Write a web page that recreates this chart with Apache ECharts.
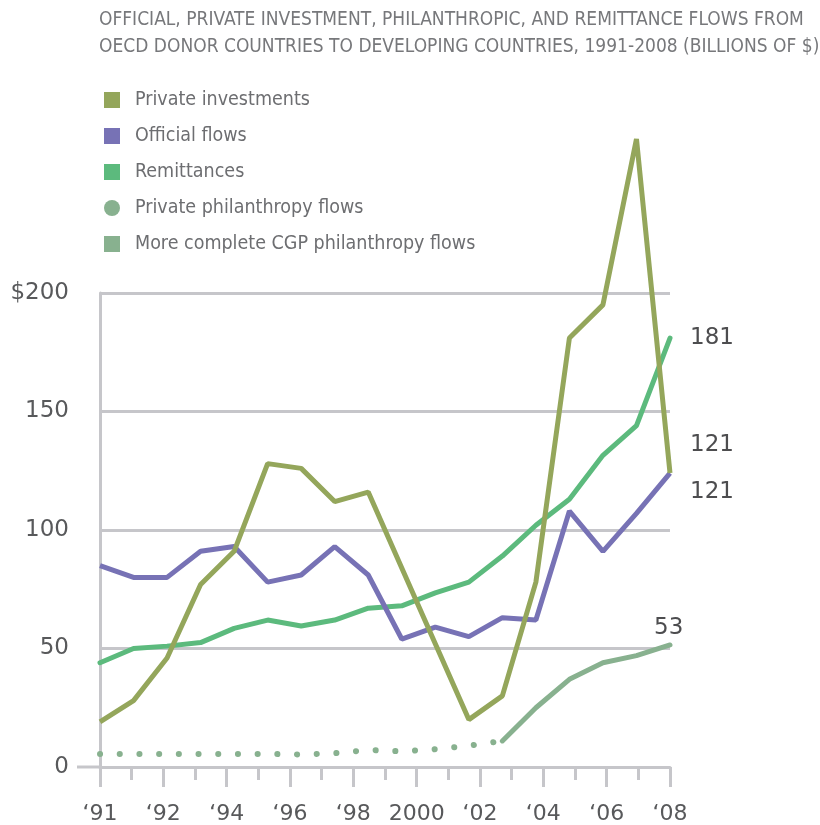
<!DOCTYPE html>
<html>
<head>
<meta charset="utf-8">
<script src="https://cdn.jsdelivr.net/npm/echarts@6/dist/echarts.min.js"></script>
<style>
	html, body { margin: 0; padding: 0; background: #fff; }
	#chart { width: 820px; height: 825px; }
</style>
</head>
<body>
<div id="chart"></div>
<script>
const years = ['1991', '1992', '1993', '1994', '1995', '1996', '1997', '1998', '1999',
	'2000', '2001', '2002', '2003', '2004', '2005', '2006', '2007', '2008']
const tickLabels = ['‘91', '‘92', '‘94', '‘96', '‘98', '2000', '‘02', '‘04', '‘06', '‘08']

const privateInvestments = [19, 28, 46, 77, 91, 128, 126, 112, 116, 84, 52, 20, 30, 78, 181, 195, 265, 124]
const officialFlows = [85, 80, 80, 91, 93, 78, 81, 93, 81, 54, 59, 55, 63, 62, 108, 91, 107, 124]
const remittances = [44, 50, 51, 52.5, 58.5, 62, 59.5, 62, 67, 68, 73.5, 78, 89, 102, 113, 131.5, 144, 181]
const privatePhilanthropy = [5.5, 5.5, 5.5, 5.5, 5.5, 5.5, 5.3, 5.8, 7.2, 6.6, 7.5, 9, 11,
	null, null, null, null, null]
const cgpPhilanthropy = [null, null, null, null, null, null, null, null, null, null, null, null,
	11, 25, 37, 44, 47, 51.5]
const endLabels = { remittances: '181', privateInvestments: '121', officialFlows: '121', cgp: '53' }

const condensed = "'DejaVu Sans Condensed', 'DejaVu Sans', sans-serif"
const numFont = "'DejaVu Sans', sans-serif"
const gridColor = '#c6c6ca'

const node = document.getElementById('chart')
const myChart = echarts.init(node)

const endLabel = (text, offset) => ({
	show: true,
	formatter: text,
	offset: offset,
	fontFamily: numFont,
	fontSize: 23,
	color: '#4d4d4f'
})

const option = {
	animation: false,
	title: {
		text: 'OFFICIAL, PRIVATE INVESTMENT, PHILANTHROPIC, AND REMITTANCE FLOWS FROM\nOECD DONOR COUNTRIES TO DEVELOPING COUNTRIES, 1991-2008 (BILLIONS OF $)',
		left: 99,
		top: 7,
		padding: 0,
		textStyle: {
			fontFamily: condensed,
			fontWeight: 400,
			fontSize: 19,
			lineHeight: 27,
			color: '#77787b'
		}
	},
	legend: {
		orient: 'vertical',
		left: 99,
		top: 85,
		itemWidth: 16,
		itemHeight: 16,
		itemGap: 16,
		textStyle: {
			fontFamily: condensed,
			fontSize: 19.5,
			lineHeight: 16,
			color: '#6d6e71',
			padding: [0, 0, 0, 10]
		},
		data: [
			{ name: 'Private investments', icon: 'rect' },
			{ name: 'Official flows', icon: 'rect' },
			{ name: 'Remittances', icon: 'rect' },
			{ name: 'Private philanthropy flows', icon: 'circle' },
			{ name: 'More complete CGP philanthropy flows', icon: 'rect' }
		]
	},
	grid: {
		left: 100,
		right: 150,
		top: 293,
		bottom: 56
	},
	xAxis: [
		{
			type: 'category',
			data: years,
			boundaryGap: false,
			show: false
		},
		{
			type: 'value',
			min: 0,
			max: 18,
			interval: 2,
			position: 'bottom',
			axisLine: { show: true, lineStyle: { color: gridColor, width: 3 } },
			axisTick: { show: true, length: 20, lineStyle: { color: gridColor, width: 3 } },
			minorTick: { show: true, splitNumber: 2, length: 13, lineStyle: { color: gridColor, width: 3 } },
			splitLine: { show: false },
			axisLabel: {
				margin: 36,
				fontFamily: numFont,
				fontSize: 22,
				color: '#58595b',
				formatter: v => tickLabels[Math.round(v / 2)]
			}
		}
	],
	yAxis: {
		type: 'value',
		min: 0,
		max: 200,
		interval: 50,
		axisLine: { show: true, lineStyle: { color: gridColor, width: 3 } },
		axisTick: { show: false },
		splitLine: { lineStyle: { color: gridColor, width: 3 } },
		axisLabel: {
			margin: 31,
			fontFamily: numFont,
			fontSize: 23,
			color: '#58595b',
			verticalAlign: 'middle',
			padding: [6, 0, 0, 0],
			formatter: v => (v === 200 ? '$200' : String(v))
		}
	},
	series: [
		{
			name: 'Private philanthropy flows',
			type: 'line',
			xAxisIndex: 0,
			data: privatePhilanthropy,
			showSymbol: false,
			clip: false,
			color: '#88b18f',
			lineStyle: { width: 6, type: [0.1, 19.6], cap: 'round' }
		},
		{
			name: 'More complete CGP philanthropy flows',
			type: 'line',
			xAxisIndex: 0,
			data: cgpPhilanthropy,
			showSymbol: false,
			clip: false,
			color: '#88b18f',
			lineStyle: { width: 5, cap: 'round' },
			endLabel: endLabel(endLabels.cgp, [-24, -17])
		},
		{
			name: 'Remittances',
			type: 'line',
			xAxisIndex: 0,
			data: remittances,
			showSymbol: false,
			clip: false,
			color: '#5cba7d',
			lineStyle: { width: 5, cap: 'round' },
			endLabel: endLabel(endLabels.remittances, [12, 0])
		},
		{
			name: 'Official flows',
			type: 'line',
			xAxisIndex: 0,
			data: officialFlows,
			showSymbol: false,
			clip: false,
			color: '#7772b5',
			lineStyle: { width: 5 },
			endLabel: endLabel(endLabels.officialFlows, [12, 19])
		},
		{
			name: 'Private investments',
			type: 'line',
			xAxisIndex: 0,
			data: privateInvestments,
			showSymbol: false,
			clip: false,
			color: '#94a65b',
			lineStyle: { width: 5 },
			endLabel: endLabel(endLabels.privateInvestments, [12, -28])
		}
	]
}

myChart.setOption(option)

// base line runs a little left of the y axis
const zeroY = myChart.convertToPixel({ yAxisIndex: 0 }, 0)
myChart.setOption({
	graphic: [{
		type: 'line',
		shape: { x1: 77, y1: zeroY, x2: 100, y2: zeroY },
		style: { stroke: gridColor, lineWidth: 3 }
	}]
})

window.addEventListener('resize', () => {
	myChart.resize()
})
</script>
</body>
</html>
